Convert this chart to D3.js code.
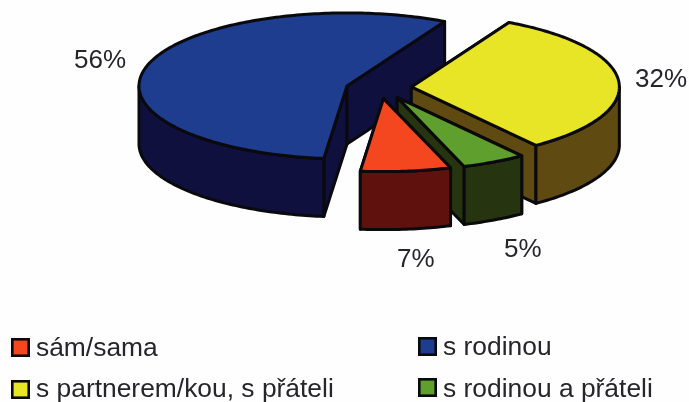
<!DOCTYPE html>
<html lang="cs">
<head>
<meta charset="utf-8">
<style>
html,body{margin:0;padding:0;background:#fefefe;overflow:hidden}
svg{display:block;filter:blur(0.4px)}
text{font-family:"Liberation Sans",Arial,sans-serif;fill:#26252a}
</style>
</head>
<body>
<svg id="chart" width="689" height="402"></svg>
<script src="https://cdn.jsdelivr.net/npm/d3@7"></script>
<script>
const categories = ["sám/sama", "s rodinou", "s partnerem/kou, s přáteli", "s rodinou a přáteli"];
const values = [7, 56, 32, 5];
const valueLabels = ["7%", "56%", "32%", "5%"];

const topColors = ["#f4461f", "#1f3d8e", "#e8e526", "#5f9f2d"];
const wallColors = ["#5e110d", "#10103f", "#5f4b12", "#263410"];
const labelX = [397, 74, 635, 504];
const labelY = [267, 68, 87, 257];
const swatchX = [11, 418, 11, 418];
const swatchY = [338, 337, 380, 378];
const legendTextX = [36, 443, 36, 443];
const legendTextY = [356, 355, 397, 397];
const nudgeX = [1, -1, 0, 3];
const nudgeY = [-2, 0, -1.5, -2];

const width = 689, height = 402;
const cx = 379, cy = 89.3, rx = 208, ry = 73, depth = 58, explode = 0.156;
const stroke = "#0a090d", strokeW = 3;
const rad = Math.PI / 180;

const svg = d3.select("#chart");

// Pie layout: angles are clockwise from 12 o'clock on a unit circle.
const pie = d3.pie().sort(null).value(d => d)
  .startAngle(161.2 * rad).endAngle((161.2 + 360) * rad);
const arcs = pie(values);

// Oblique projection of the flat pie: x/y scales squash the circle to an ellipse.
const sx = d3.scaleLinear().domain([-1, 1]).range([cx - rx, cx + rx]);
const sy = d3.scaleLinear().domain([-1, 1]).range([cy - ry, cy + ry]);
const line = d3.line();

// back-to-front painting order
const order = [1, 2, 3, 0];
order.forEach(i => {
  const d = arcs[i];
  const mid = (d.startAngle + d.endAngle) / 2;
  const ox = explode * Math.sin(mid), oy = -explode * Math.cos(mid);
  const project = (a, r, z) => [
    sx(ox + r * Math.sin(a)) + nudgeX[i],
    sy(oy - r * Math.cos(a)) + nudgeY[i] + z
  ];
  const sweep = (a0, a1, z) => {
    const n = Math.max(2, Math.ceil(Math.abs(a1 - a0) / rad));
    return d3.range(n + 1).map(k => project(a0 + (a1 - a0) * k / n, 1, z));
  };
  const g = svg.append("g").attr("class", "slice");
  const wall = pts => g.append("path")
    .attr("d", line(pts) + "Z")
    .attr("fill", wallColors[i]).attr("stroke", stroke)
    .attr("stroke-width", strokeW).attr("stroke-linejoin", "round");

  const apex = project(0, 0, 0), apexLow = project(0, 0, depth);
  [d.startAngle, d.endAngle].forEach(a => {
    wall([apex, project(a, 1, 0), project(a, 1, depth), apexLow]);
  });

  // outer rim: only the part of the arc facing the viewer (90 to 270 degrees)
  for (let k = -1; k <= 1; k++) {
    const a0 = Math.max(d.startAngle, Math.PI / 2 + k * 2 * Math.PI);
    const a1 = Math.min(d.endAngle, 1.5 * Math.PI + k * 2 * Math.PI);
    if (a1 > a0) wall(sweep(a0, a1, 0).concat(sweep(a1, a0, depth)));
  }

  g.append("path")
    .attr("d", line([apex].concat(sweep(d.startAngle, d.endAngle, 0))) + "Z")
    .attr("fill", topColors[i]).attr("stroke", stroke)
    .attr("stroke-width", strokeW).attr("stroke-linejoin", "round");
});

svg.selectAll("text.value").data(valueLabels).join("text")
  .attr("class", "value")
  .attr("x", (d, i) => labelX[i]).attr("y", (d, i) => labelY[i])
  .attr("font-size", 26).text(d => d);

const legend = svg.selectAll("g.legend").data(categories).join("g")
  .attr("class", "legend");
legend.append("rect")
  .attr("x", (d, i) => swatchX[i] + 1.3).attr("y", (d, i) => swatchY[i] + 1.3)
  .attr("width", 16.4).attr("height", 16.4)
  .attr("fill", (d, i) => topColors[i])
  .attr("stroke", stroke).attr("stroke-width", 2.6);
legend.append("text")
  .attr("x", (d, i) => legendTextX[i]).attr("y", (d, i) => legendTextY[i])
  .attr("font-size", 26.4).text(d => d);
</script>
</body>
</html>
